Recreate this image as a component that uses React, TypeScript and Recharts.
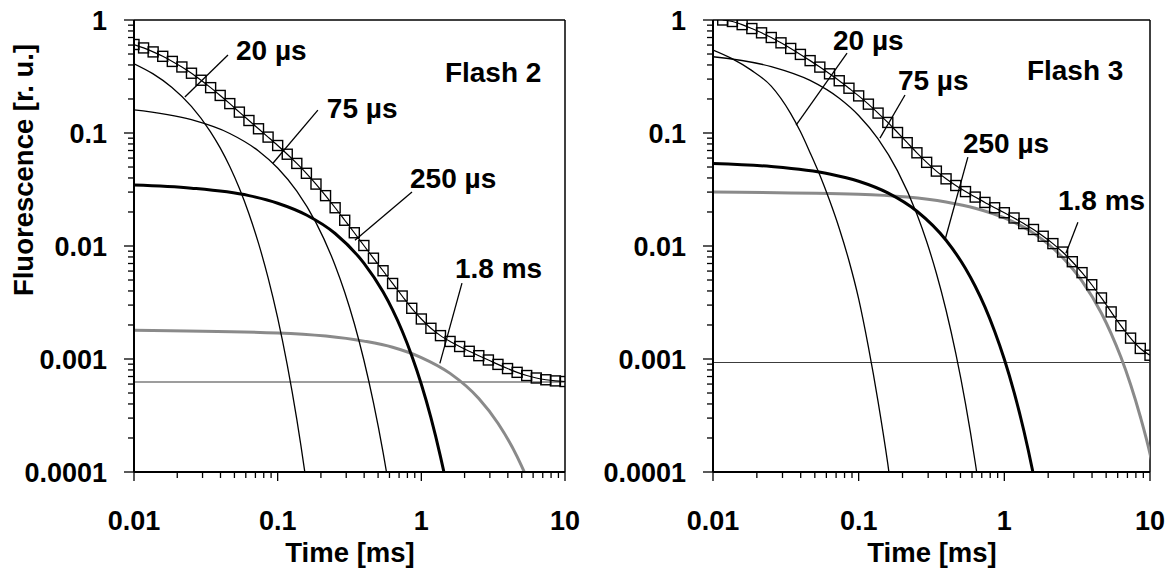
import React from 'react';
import { LineChart, Line, XAxis, YAxis, ReferenceLine, ReferenceDot } from 'recharts';

const FONT = '"Liberation Sans", Arial, Helvetica, sans-serif';

// ---- measured time points (ms) ----
const timeGrid = [
  0.01, 0.01166, 0.01359, 0.01585, 0.01848, 0.02154, 0.02512, 0.02929, 0.03415, 0.03981,
  0.04642, 0.05412, 0.0631, 0.07356, 0.08577, 0.1, 0.1166, 0.1359, 0.1585, 0.1848,
  0.2154, 0.2512, 0.2929, 0.3415, 0.3981, 0.4642, 0.5412, 0.631, 0.7356, 0.8577,
  1, 1.166, 1.359, 1.585, 1.848, 2.154, 2.512, 2.929, 3.415, 3.981,
  4.642, 5.412, 6.31, 7.356, 8.577, 10,
];

// ---- Flash 2 ----
const flash2Signal = [
  0.607, 0.566, 0.522, 0.477, 0.43, 0.384, 0.338, 0.293, 0.252, 0.215,
  0.182, 0.153, 0.129, 0.109, 0.092, 0.0775, 0.0649, 0.0538, 0.044, 0.0353,
  0.0279, 0.0218, 0.0169, 0.0131, 0.0101, 0.0078, 0.00604, 0.00466, 0.00361, 0.00281,
  0.00226, 0.00187, 0.00161, 0.00143, 0.00129, 0.00117, 0.00107, 0.00098, 0.000896, 0.000823,
  0.000762, 0.000714, 0.000679, 0.000655, 0.00064, 0.000632,
];
const f2c20T = [0.01, 0.0135, 0.0183, 0.0251, 0.034, 0.0398, 0.0464, 0.0541, 0.063, 0.0736, 0.0858, 0.1, 0.1166, 0.1359, 0.1585, 0.1848];
const f2c20V = [0.41, 0.335, 0.254, 0.172, 0.103, 0.0738, 0.0505, 0.0324, 0.0194, 0.01054, 0.00522, 0.00231, 0.000887, 0.000292, 0.0000794, 0.0000175];
const f2c75T = [0.01, 0.0251, 0.0464, 0.0736, 0.1, 0.1359, 0.1848, 0.2512, 0.2929, 0.3415, 0.3981, 0.4642, 0.5412, 0.631, 0.7356];
const f2c75V = [0.16, 0.131, 0.099, 0.0693, 0.049, 0.0306, 0.0161, 0.00673, 0.0039, 0.00206, 0.00098, 0.000411, 0.00015, 0.000046, 0.0000117];
const f2c250T = [0.01, 0.0251, 0.0631, 0.1, 0.1585, 0.2512, 0.3981, 0.5412, 0.631, 0.7356, 0.8577, 1, 1.166, 1.359, 1.585, 1.848];
const f2c250V = [0.0346, 0.0325, 0.0279, 0.0239, 0.0188, 0.0129, 0.00705, 0.00393, 0.00272, 0.00177, 0.00107, 0.000598, 0.000303, 0.000137, 0.0000545, 0.0000185];
const f2c18T = [0.01, 0.1, 0.3981, 0.631, 1, 1.585, 2.512, 3.415, 4.642, 5.412, 6.31, 7.356];
const f2c18V = [0.0018, 0.0017, 0.00144, 0.00127, 0.00103, 0.000746, 0.000447, 0.00027, 0.000137, 0.0000893, 0.0000542, 0.0000303];
const f2ConstT = [0.01, 10.5];
const f2ConstV = [0.000625, 0.000625];

// ---- Flash 3 (signal starts at the second time point) ----
const flash3Signal = [
  1.0, 0.97, 0.91, 0.84, 0.77, 0.7, 0.628, 0.56, 0.496, 0.437,
  0.383, 0.334, 0.29, 0.249, 0.213, 0.18, 0.15, 0.124, 0.101, 0.0821,
  0.0668, 0.055, 0.046, 0.0393, 0.0343, 0.0303, 0.0271, 0.0243, 0.0218, 0.0197,
  0.0177, 0.0158, 0.014, 0.0122, 0.0105, 0.00884, 0.00726, 0.00581, 0.00454, 0.00347,
  0.00261, 0.00197, 0.00153, 0.00124, 0.00108,
];
const f3c20T = [0.01, 0.0135, 0.0183, 0.0251, 0.034, 0.0398, 0.0464, 0.0541, 0.063, 0.0736, 0.0858, 0.1, 0.1166, 0.1359, 0.1585, 0.1848];
const f3c20V = [0.542, 0.455, 0.36, 0.26, 0.15, 0.103, 0.067, 0.0425, 0.0255, 0.0143, 0.0074, 0.0034, 0.00128, 0.00042, 0.000118, 0.000027];
const f3c75T = [0.01, 0.0251, 0.0464, 0.0736, 0.1, 0.1359, 0.1848, 0.2512, 0.2929, 0.3415, 0.3981, 0.4642, 0.5412, 0.631, 0.7356];
const f3c75V = [0.473, 0.387, 0.292, 0.203, 0.143, 0.0886, 0.0462, 0.0191, 0.01096, 0.00574, 0.0027, 0.00112, 0.000403, 0.000122, 0.0000303];
const f3c250T = [0.01, 0.0251, 0.0631, 0.1, 0.1585, 0.2512, 0.3981, 0.5412, 0.631, 0.7356, 0.8577, 1, 1.166, 1.359, 1.585, 1.848];
const f3c250V = [0.0537, 0.0505, 0.0434, 0.0374, 0.0295, 0.0203, 0.01124, 0.00632, 0.0044, 0.00289, 0.00176, 0.000994, 0.000509, 0.000234, 0.0000942, 0.0000326];
const f3c18T = [0.01, 0.1, 0.3981, 0.631, 1, 1.585, 2.512, 3.415, 4.642, 5.412, 6.31, 7.356, 8.577, 10, 11];
const f3c18V = [0.0301, 0.0287, 0.0245, 0.0216, 0.0177, 0.013, 0.0079, 0.00488, 0.00254, 0.00168, 0.00104, 0.000595, 0.00031, 0.000145, 0.00008];
const f3ConstT = [0.01, 10.5];
const f3ConstV = [0.00093, 0.00093];

// ---- axes ----
const xTickValues = [
  0.01, 0.02, 0.03, 0.04, 0.05, 0.06, 0.07, 0.08, 0.09,
  0.1, 0.2, 0.3, 0.4, 0.5, 0.6, 0.7, 0.8, 0.9,
  1, 2, 3, 4, 5, 6, 7, 8, 9, 10,
];
const xMajorValues = [0.01, 0.1, 1, 10];
const xMajorLabels = ['0.01', '0.1', '1', '10'];
const yTickValues = [
  0.0001, 0.0002, 0.0003, 0.0004, 0.0005, 0.0006, 0.0007, 0.0008, 0.0009,
  0.001, 0.002, 0.003, 0.004, 0.005, 0.006, 0.007, 0.008, 0.009,
  0.01, 0.02, 0.03, 0.04, 0.05, 0.06, 0.07, 0.08, 0.09,
  0.1, 0.2, 0.3, 0.4, 0.5, 0.6, 0.7, 0.8, 0.9, 1,
];
const yMajorValues = [0.0001, 0.001, 0.01, 0.1, 1];
const yMajorLabels = ['0.0001', '0.001', '0.01', '0.1', '1'];

// ---- annotations (data coordinates: time, fluorescence) ----
const flash2Notes = [
  { text: '20 µs', t: 0.0513, v: 0.442 },
  { text: '75 µs', t: 0.22, v: 0.1355 },
  { text: '250 µs', t: 0.834, v: 0.0325 },
  { text: 'Flash 2', t: 1.459, v: 0.282 },
  { text: '1.8 ms', t: 1.714, v: 0.00519 },
];
const flash2Leaders = [
  [0.0451, 0.49, 0.0226, 0.208],
  [0.1905, 0.1595, 0.0927, 0.054],
  [0.861, 0.03, 0.345, 0.01125],
  [1.918, 0.00469, 1.346, 0.000916],
];
const flash3Notes = [
  { text: '20 µs', t: 0.0667, v: 0.542 },
  { text: '75 µs', t: 0.186, v: 0.24 },
  { text: 'Flash 3', t: 1.429, v: 0.294 },
  { text: '250 µs', t: 0.52, v: 0.0664 },
  { text: '1.8 ms', t: 2.333, v: 0.0207 },
];
const flash3Leaders = [
  [0.0832, 0.51, 0.0372, 0.1175],
  [0.208, 0.2167, 0.14, 0.0901],
  [0.562, 0.0612, 0.391, 0.01125],
  [3.2, 0.01625, 2.648, 0.00863],
];

const zip = (t: number[], v: number[]) => t.map((x, i) => ({ t: x, v: v[i] }));
const isDecade = (v: number) => Math.abs(Math.log10(v) - Math.round(Math.log10(v))) < 1e-6;
const labelFor = (v: number, vals: number[], labels: string[]) => {
  let best = 0;
  vals.forEach((m, i) => {
    if (Math.abs(Math.log10(m) - Math.log10(v)) < Math.abs(Math.log10(vals[best]) - Math.log10(v))) best = i;
  });
  return labels[best];
};

const XTick = (props: any) => {
  const { x, y, payload } = props;
  const major = isDecade(payload.value);
  return (
    <g>
      <line x1={x} x2={x} y1={y} y2={y + (major ? 9 : 6)} stroke="#000" strokeWidth={1.3} />
      {major && (
        <text x={x} y={y + 58} textAnchor="middle" fontFamily={FONT} fontWeight="bold" fontSize={27} fill="#000">
          {labelFor(payload.value, xMajorValues, xMajorLabels)}
        </text>
      )}
    </g>
  );
};

const YTick = (props: any) => {
  const { x, y, payload } = props;
  const major = isDecade(payload.value);
  return (
    <g>
      <line x1={x - (major ? 10 : 6)} x2={x} y1={y} y2={y} stroke="#000" strokeWidth={1.3} />
      {major && (
        <text x={x - 27} y={y + 9.5} textAnchor="end" fontFamily={FONT} fontWeight="bold" fontSize={27} fill="#000">
          {labelFor(payload.value, yMajorValues, yMajorLabels)}
        </text>
      )}
    </g>
  );
};

const SquareDot = (props: any) => {
  const { cx, cy } = props;
  if (cx == null || cy == null || isNaN(cx) || isNaN(cy)) return <g />;
  return <rect x={cx - 5} y={cy - 5} width={10} height={10} fill="none" stroke="#000" strokeWidth={1.4} />;
};

type PanelProps = {
  width: number;
  yAxisWidth: number;
  marginRight: number;
  signal: { t: number; v: number }[];
  comps: { pts: { t: number; v: number }[]; color: string; width: number }[];
  constant: { t: number; v: number }[];
  notes: { text: string; t: number; v: number }[];
  leaders: number[][];
};

const Panel = ({ width, yAxisWidth, marginRight, signal, comps, constant, notes, leaders }: PanelProps) => (
  <LineChart width={width} height={569} margin={{ top: 20, right: marginRight, bottom: 17, left: 0 }}>
    <XAxis
      dataKey="t"
      type="number"
      scale="log"
      domain={[0.01, 10]}
      allowDataOverflow
      ticks={xTickValues}
      interval={0}
      tickSize={0}
      tickMargin={0}
      tickLine={false}
      tick={(p: any) => <XTick {...p} />}
      axisLine={{ stroke: '#000', strokeWidth: 2 }}
      height={80}
    />
    <YAxis
      type="number"
      scale="log"
      domain={[0.0001, 1]}
      allowDataOverflow
      ticks={yTickValues}
      interval={0}
      tickSize={0}
      tickMargin={0}
      tickLine={false}
      tick={(p: any) => <YTick {...p} />}
      axisLine={{ stroke: '#000', strokeWidth: 2 }}
      width={yAxisWidth}
    />
    <ReferenceLine y={1} stroke="#000" strokeWidth={1.5} />
    <ReferenceLine x={10} stroke="#000" strokeWidth={1.5} />
    <Line data={constant} dataKey="v" type="linear" stroke="#3c3c3c" strokeWidth={1.1} dot={false} isAnimationActive={false} />
    {comps.map((c, i) => (
      <Line key={i} data={c.pts} dataKey="v" type="monotone" stroke={c.color} strokeWidth={c.width} dot={false} isAnimationActive={false} />
    ))}
    <Line
      data={signal}
      dataKey="v"
      type="monotone"
      stroke="#000"
      strokeWidth={1.2}
      dot={(p: any) => <SquareDot key={p.index} {...p} />}
      isAnimationActive={false}
    />
    {leaders.map((l, i) => (
      <ReferenceLine
        key={'l' + i}
        segment={[{ x: l[0], y: l[1] }, { x: l[2], y: l[3] }]}
        stroke="#000"
        strokeWidth={1.3}
      />
    ))}
    {notes.map((n, i) => (
      <ReferenceDot
        key={'n' + i}
        x={n.t}
        y={n.v}
        r={0}
        ifOverflow="visible"
        shape={(p: any) => (
          <text x={p.cx} y={p.cy} fontFamily={FONT} fontWeight="bold" fontSize={28} fill="#000">
            {n.text}
          </text>
        )}
      />
    ))}
  </LineChart>
);

export default function App() {
  const f2Comps = [
    { pts: zip(f2c18T, f2c18V), color: '#8a8a8a', width: 3 },
    { pts: zip(f2c250T, f2c250V), color: '#000', width: 3 },
    { pts: zip(f2c75T, f2c75V), color: '#000', width: 1.3 },
    { pts: zip(f2c20T, f2c20V), color: '#000', width: 1.3 },
  ];
  const f3Comps = [
    { pts: zip(f3c18T, f3c18V), color: '#8a8a8a', width: 3 },
    { pts: zip(f3c250T, f3c250V), color: '#000', width: 3 },
    { pts: zip(f3c75T, f3c75V), color: '#000', width: 1.3 },
    { pts: zip(f3c20T, f3c20V), color: '#000', width: 1.3 },
  ];
  return (
    <div style={{ position: 'absolute', left: 0, top: 0, width: 1170, height: 569, background: '#fff', overflow: 'hidden' }}>
      <div style={{ position: 'absolute', left: 0, top: 0 }}>
        <Panel
          width={600}
          yAxisWidth={134}
          marginRight={35}
          signal={zip(timeGrid, flash2Signal)}
          comps={f2Comps}
          constant={zip(f2ConstT, f2ConstV)}
          notes={flash2Notes}
          leaders={flash2Leaders}
        />
      </div>
      <div style={{ position: 'absolute', left: 600, top: 0 }}>
        <Panel
          width={570}
          yAxisWidth={113}
          marginRight={20}
          signal={zip(timeGrid.slice(1), flash3Signal)}
          comps={f3Comps}
          constant={zip(f3ConstT, f3ConstV)}
          notes={flash3Notes}
          leaders={flash3Leaders}
        />
      </div>
      <svg width={1170} height={569} style={{ position: 'absolute', left: 0, top: 0, pointerEvents: 'none' }}>
        <text transform="rotate(-90)" x={-170} y={33} textAnchor="middle" fontFamily={FONT} fontWeight="bold" fontSize={27.5} fill="#000">
          Fluorescence [r. u.]
        </text>
        <text x={350} y={562} textAnchor="middle" fontFamily={FONT} fontWeight="bold" fontSize={27.5} fill="#000">
          Time [ms]
        </text>
        <text x={932} y={562} textAnchor="middle" fontFamily={FONT} fontWeight="bold" fontSize={27.5} fill="#000">
          Time [ms]
        </text>
      </svg>
    </div>
  );
}
